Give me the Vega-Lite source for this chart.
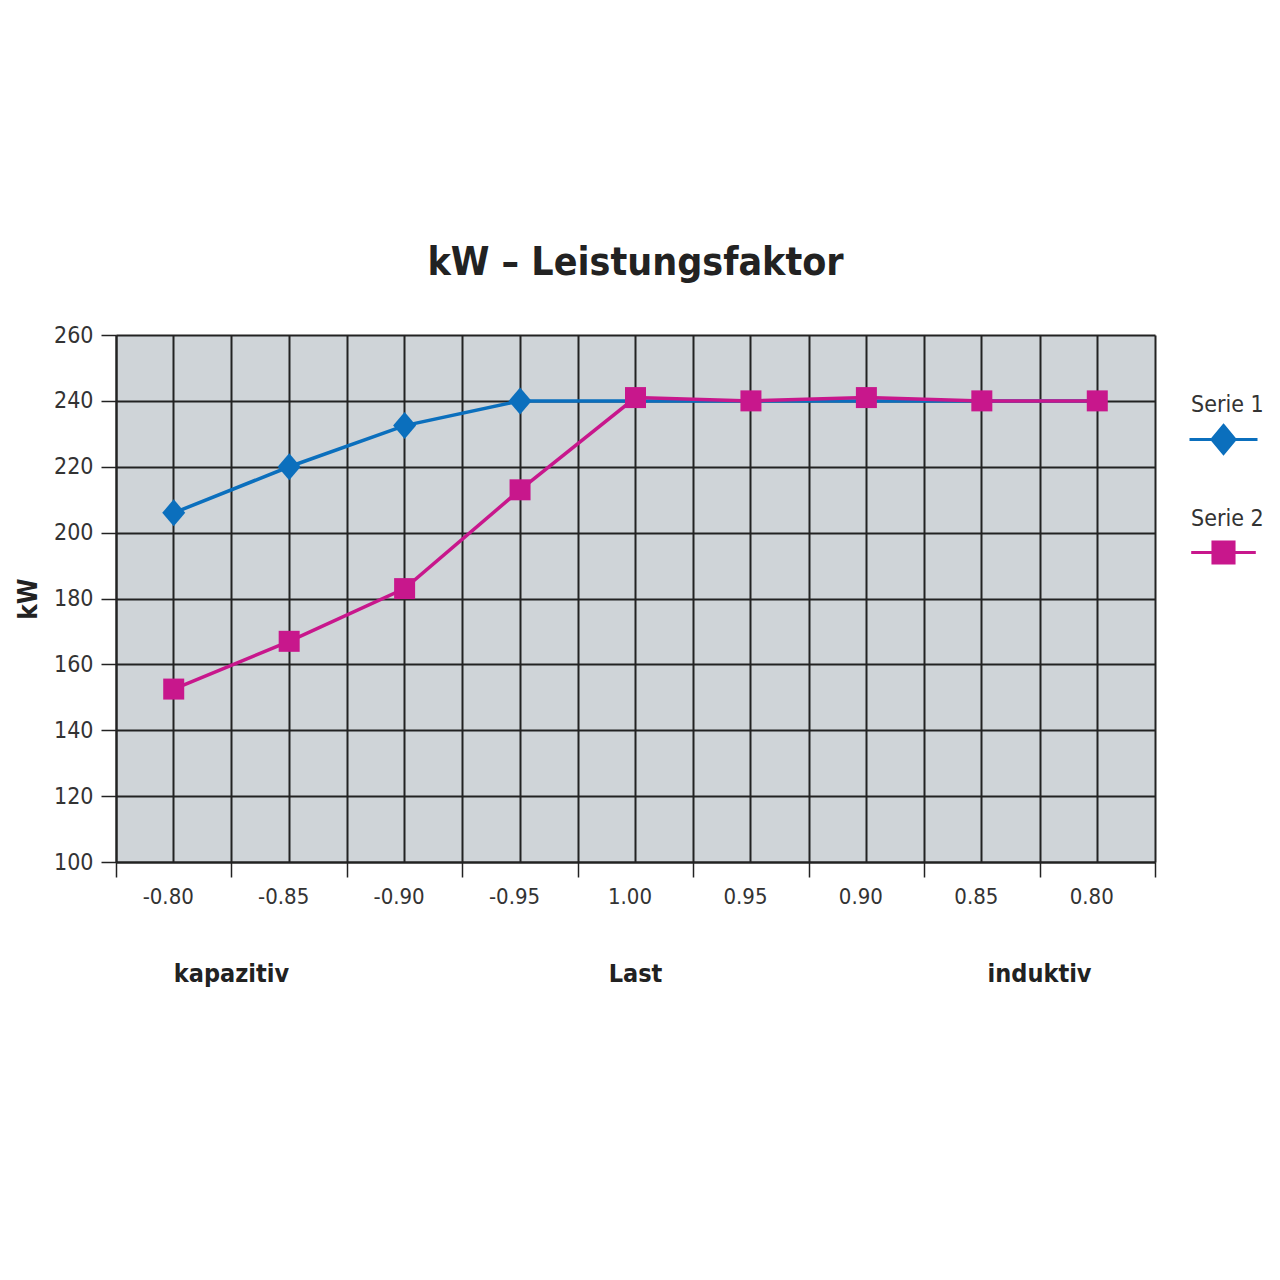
{
  "$schema": "https://vega.github.io/schema/vega-lite/v6.json",
  "autosize": "none",
  "width": 1039,
  "height": 527,
  "padding": {"left": 116, "top": 335, "right": 125, "bottom": 418},
  "background": "white",
  "config": {
    "font": "DejaVu Sans Condensed, Liberation Sans Narrow, sans-serif",
    "view": {"fill": "#cfd4d8", "stroke": null}
  },
  "title": {
    "text": "kW – Leistungsfaktor",
    "font": "DejaVu Sans Condensed",
    "fontSize": 39,
    "fontWeight": "bold",
    "color": "#222222",
    "anchor": "middle",
    "baseline": "alphabetic",
    "offset": 10
  },
  "datasets": {
    "main": [
      {"pf": "-0.80", "kW": 206, "series": "Serie 1"},
      {"pf": "-0.85", "kW": 220, "series": "Serie 1"},
      {"pf": "-0.90", "kW": 232.5, "series": "Serie 1"},
      {"pf": "-0.95", "kW": 240, "series": "Serie 1"},
      {"pf": "1.00", "kW": 240, "series": "Serie 1"},
      {"pf": "0.95", "kW": 240, "series": "Serie 1"},
      {"pf": "0.90", "kW": 240, "series": "Serie 1"},
      {"pf": "0.85", "kW": 240, "series": "Serie 1"},
      {"pf": "0.80", "kW": 240, "series": "Serie 1"},
      {"pf": "-0.80", "kW": 152.5, "series": "Serie 2"},
      {"pf": "-0.85", "kW": 167, "series": "Serie 2"},
      {"pf": "-0.90", "kW": 183, "series": "Serie 2"},
      {"pf": "-0.95", "kW": 213, "series": "Serie 2"},
      {"pf": "1.00", "kW": 241, "series": "Serie 2"},
      {"pf": "0.95", "kW": 240, "series": "Serie 2"},
      {"pf": "0.90", "kW": 241, "series": "Serie 2"},
      {"pf": "0.85", "kW": 240, "series": "Serie 2"},
      {"pf": "0.80", "kW": 240, "series": "Serie 2"}
    ],
    "edges": [
      {"pf": "-0.80", "label": "kapazitiv"},
      {"pf": "0.85", "label": "induktiv"}
    ],
    "middle": [
      {"pf": "1.00", "label": "Last"}
    ]
  },
  "resolve": {"axis": {"x": "independent"}},
  "layer": [
    {
      "data": {"name": "main"},
      "mark": {"type": "line", "strokeWidth": 3.5},
      "encoding": {
        "x": {
          "field": "pf", "type": "ordinal", "sort": null, "bandPosition": 0.5,
          "scale": {"type": "band", "paddingInner": 0, "paddingOuter": 0},
          "axis": {
            "orient": "bottom", "title": null, "grid": true, "tickBand": "center",
            "gridColor": "#222222", "gridWidth": 2, "gridOpacity": 1,
            "ticks": false, "labels": false, "domain": false
          }
        },
        "y": {
          "field": "kW", "type": "quantitative",
          "scale": {"domain": [100, 260], "nice": false, "zero": false},
          "axis": {
            "title": "kW", "titleFontSize": 26, "titleFontWeight": "bold", "titleColor": "#222222", "titlePadding": 12,
            "values": [100, 110, 120, 130, 140, 150, 160, 170, 180, 190, 200, 210, 220, 230, 240, 250, 260],
            "labelExpr": "datum.value % 20 === 0 ? datum.label : ''",
            "grid": true, "gridColor": "#222222", "gridWidth": 2, "gridOpacity": 1,
            "domain": true, "domainColor": "#222222", "domainWidth": 2,
            "tickSize": 15, "tickColor": "#222222", "tickWidth": 1.5,
            "tickOpacity": {"condition": {"test": "datum.value % 20 === 0", "value": 1}, "value": 0},
            "labelFontSize": 23, "labelColor": "#333333", "labelPadding": 8
          }
        },
        "color": {
          "field": "series", "type": "nominal",
          "scale": {"domain": ["Serie 1", "Serie 2"], "range": ["#0b6fbd", "#c8178c"]},
          "legend": {
            "title": null, "orient": "none", "legendX": 1072, "legendY": 34,
            "padding": 0, "direction": "vertical",
            "symbolSize": 4624, "symbolStrokeWidth": 3, "rowPadding": 23,
            "labelFontSize": 23, "labelColor": "#333333", "labelOffset": -68, "labelAlign": "left",
            "encode": {
              "symbols": {
                "update": {
                  "shape": {"signal": "datum.value === 'Serie 1' ? 'M-1,1.03L1,1.03M0,0.62L0.34,1.03L0,1.44L-0.34,1.03Z' : 'M-0.95,1.0L0.95,1.0M-0.31,0.69L0.31,0.69L0.31,1.31L-0.31,1.31Z'"},
                  "size": {"value": 4624},
                  "fill": {"scale": "color", "field": "value"},
                  "stroke": {"scale": "color", "field": "value"},
                  "strokeWidth": {"value": 3},
                  "opacity": {"value": 1},
                  "fillOpacity": {"value": 1}
                }
              }
            }
          }
        }
      }
    },
    {
      "data": {"name": "main"},
      "transform": [
        {"filter": "datum.series === 'Serie 1' && indexof(['-0.80', '-0.85', '-0.90', '-0.95'], datum.pf) >= 0"}
      ],
      "mark": {"type": "point", "filled": true, "opacity": 1, "shape": "M0,-1.08L0.92,0L0,1.08L-0.92,0Z", "size": 625},
      "encoding": {
        "x": {
          "field": "pf", "type": "ordinal", "sort": null, "bandPosition": 0.5,
          "axis": {
            "orient": "bottom", "title": null, "grid": true, "tickBand": "extent",
            "gridColor": "#222222", "gridWidth": 2, "gridOpacity": 1,
            "ticks": true, "tickSize": 15, "tickColor": "#222222", "tickWidth": 1.5,
            "domain": true, "domainColor": "#222222", "domainWidth": 2,
            "labelAngle": 0, "labelFontSize": 22, "labelColor": "#333333", "labelOffset": -6, "labelPadding": 9
          }
        },
        "y": {"field": "kW", "type": "quantitative"},
        "color": {"field": "series", "type": "nominal"}
      }
    },
    {
      "data": {"name": "main"},
      "transform": [
        {"filter": "datum.series === 'Serie 2'"}
      ],
      "mark": {"type": "point", "filled": true, "opacity": 1, "shape": "square", "size": 441},
      "encoding": {
        "x": {"field": "pf", "type": "ordinal", "sort": null, "bandPosition": 0.5, "axis": null},
        "y": {"field": "kW", "type": "quantitative"},
        "color": {"field": "series", "type": "nominal"}
      }
    },
    {
      "data": {"name": "edges"},
      "mark": {"type": "text", "fontSize": 25, "fontWeight": "bold", "color": "#222222", "dy": 112, "baseline": "middle", "align": "center"},
      "encoding": {
        "x": {"field": "pf", "type": "ordinal", "sort": null, "bandPosition": 1, "axis": null},
        "y": {"datum": 100, "type": "quantitative"},
        "text": {"field": "label"}
      }
    },
    {
      "data": {"name": "middle"},
      "mark": {"type": "text", "fontSize": 25, "fontWeight": "bold", "color": "#222222", "dy": 112, "baseline": "middle", "align": "center"},
      "encoding": {
        "x": {"field": "pf", "type": "ordinal", "sort": null, "bandPosition": 0.5, "axis": null},
        "y": {"datum": 100, "type": "quantitative"},
        "text": {"field": "label"}
      }
    }
  ]
}
